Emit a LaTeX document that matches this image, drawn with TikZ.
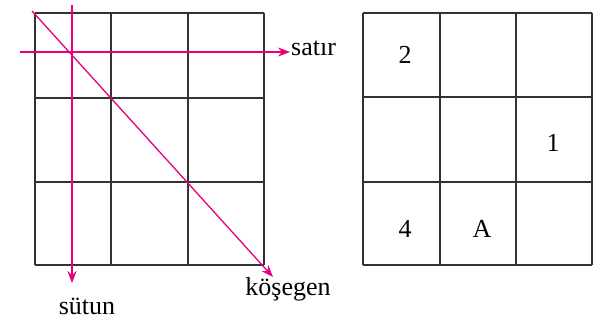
\documentclass[tikz,border=0pt]{standalone}
\usepackage{fontspec}
\setmainfont{Liberation Serif}
\usetikzlibrary{arrows.meta}
\definecolor{mag}{HTML}{E6007E}
\definecolor{gridc}{HTML}{333333}
\begin{document}
\begin{tikzpicture}[x=1pt,y=-1pt,
  gridline/.style={gridc,line width=1.4pt},
  magline/.style={mag,line width=1.3pt,-{Stealth[length=12pt,width=9pt]}},
  lbl/.style={font=\fontsize{26}{28}\selectfont,inner sep=0pt}]
\useasboundingbox (0,0) rectangle (600,321);
% left grid
\foreach \x in {35,111,188,264} \draw[gridline] (\x,13) -- (\x,265);
\foreach \y in {13,98,182,265} \draw[gridline] (35,\y) -- (264,\y);
% right grid
\foreach \x in {363,440,516,592} \draw[gridline] (\x,13) -- (\x,265);
\foreach \y in {13,97,182,265} \draw[gridline] (363,\y) -- (592,\y);
% arrows
\coordinate (hs) at (20,52);
\coordinate (vs) at (72,5);
\coordinate (ds) at (32,11);
\node[lbl,anchor=west] (satir) at (291,48) {satır};
\node[lbl] (sutun) at (87,306) {sütun};
\node[lbl] (kosegen) at (288,289) {köşegen};
\coordinate (he) at (290,52);
\coordinate (ve) at (72,283);
\coordinate (de) at (273,277);
\draw[magline] (hs) -- (he);
\draw[magline] (vs) -- (ve);
\draw[magline] (ds) -- (de);
% numbers
\node[lbl] (n2) at (405,55) {2};
\node[lbl] (n1) at (553,143) {1};
\node[lbl] (n4) at (405,229) {4};
\node[lbl] (nA) at (482,229) {A};
\end{tikzpicture}
\end{document}
